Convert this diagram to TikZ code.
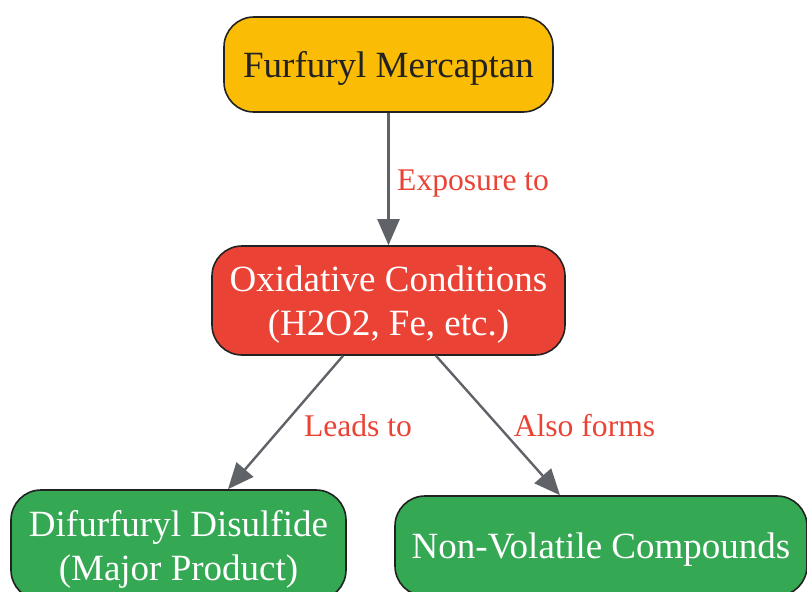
\documentclass[tikz,border=0pt]{standalone}
\usepackage{fontspec}
\setmainfont{Liberation Serif}
\usetikzlibrary{arrows.meta}
\definecolor{gyellow}{HTML}{FBBC05}
\definecolor{gred}{HTML}{EA4335}
\definecolor{ggreen}{HTML}{34A853}
\definecolor{edgegrey}{HTML}{5F6368}
\definecolor{borderdark}{HTML}{222222}
\begin{document}
\begin{tikzpicture}[x=1pt,y=-1pt,
  box/.style={draw=borderdark, line width=1.6pt, rounded corners=30pt, align=center,
    font=\fontsize{37}{44}\selectfont, inner sep=0pt, text depth=0pt},
  conn/.style={draw=edgegrey, line width=2.4pt, -{Triangle[length=26pt,width=22pt]}},
  lbl/.style={text=gred, font=\fontsize{31.6}{36}\selectfont, inner sep=0pt}
]
\useasboundingbox (0,0) rectangle (807,592);
\begin{scope}
\clip (0,0) rectangle (807,592);
\node[box, fill=gyellow, text=borderdark, minimum width=329pt, minimum height=95pt] (fm) at (388.5,64.5) {Furfuryl Mercaptan};
\node[box, fill=gred, text=white, minimum width=353pt, minimum height=109pt] (ox) at (388.5,300.5) {Oxidative Conditions\\(H2O2, Fe, etc.)};
\node[box, fill=ggreen, text=white, minimum width=335pt, minimum height=110pt] (dd) at (178.5,545) {Difurfuryl Disulfide\\(Major Product)};
\node[box, fill=ggreen, text=white, minimum width=412pt, minimum height=100pt] (nv) at (601,546) {Non-Volatile Compounds};
\end{scope}
\draw[conn] (fm.south) -- (ox.north);
\draw[conn] ([xshift=-45.5pt]ox.south) -- ([xshift=49.5pt]dd.north);
\draw[conn] ([xshift=47.5pt]ox.south) -- ([xshift=-41pt]nv.north);
\node[lbl, anchor=west] (l1) at (397,184) {Exposure to};
\node[lbl] (l2) at (358,426) {Leads to};
\node[lbl] (l3) at (584.5,426) {Also forms};
\end{tikzpicture}
\end{document}
